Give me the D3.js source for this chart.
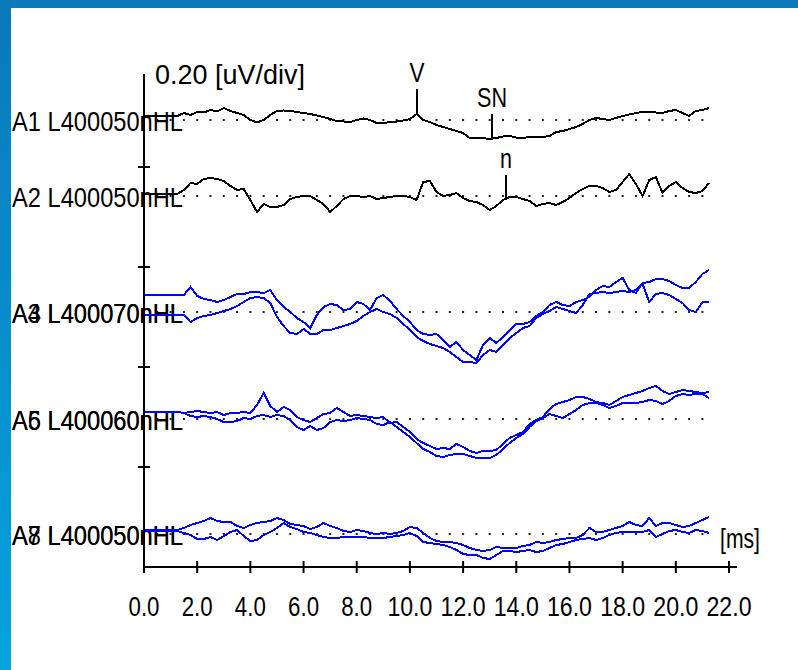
<!DOCTYPE html>
<html>
<head>
<meta charset="utf-8">
<script src="https://cdn.jsdelivr.net/npm/d3@7/dist/d3.min.js"></script>
<style>
  html, body { margin: 0; padding: 0; background: #fff; }
  svg { display: block; }
  text { font-family: "Liberation Sans", Arial, sans-serif; fill: #000; }
</style>
</head>
<body>
<div id="chart"></div>
<script>
// sample times in ms (one point every 0.25 ms)
const times = d3.range(86).map(i => i * 0.25)
const xTicks = [0, 2, 4, 6, 8, 10, 12, 14, 16, 18, 20, 22]
const dotTimes = d3.range(0, 21.01, 0.5)

// amplitudes in nV relative to each trace's baseline (0.20 uV/div)
const a1 = [8,8,8,8,8,8,14,10,16,15,20,17,24,18,14,10,0,-5,0,10,18,19,18,16,14,12,9,6,2,-2,-3,-4,0,3,0,-6,-6,-4,-3,-1,2,12,0,-4,-10,-14,-18,-22,-26,-36,-36,-36,-38,-36,-33,-32,-35,-36,-34,-33,-34,-32,-24,-22,-18,-14,-8,0,4,2,0,4,8,11,14,16,17,15,14,18,20,14,8,18,20,24]
const a2 = [4,4,4,4,4,4,12,26,24,34,36,34,30,20,12,14,-8,-32,-16,-22,-22,-18,-6,-2,0,0,-8,-16,-32,-20,-6,0,0,-2,0,-6,-4,-2,0,0,-2,-8,28,30,8,0,2,6,-4,-10,-12,-18,-28,-20,-8,-2,-2,-6,-10,-20,-16,-14,-18,-12,-4,6,14,20,20,16,8,12,28,44,24,0,32,38,6,20,28,16,8,6,10,26]
const a3 = [34,34,34,34,34,34,34,50,32,26,24,20,24,30,36,36,40,40,38,44,24,10,0,-12,-20,-32,-6,10,16,14,4,6,20,16,4,28,34,22,6,-8,-20,-36,-44,-46,-44,-56,-70,-60,-76,-86,-96,-66,-52,-62,-50,-36,-24,-24,-20,-8,0,14,20,14,12,20,24,30,44,52,50,60,68,44,38,58,60,66,66,62,54,48,48,60,76,84]
const a4 = [-6,-6,-6,-6,-6,-6,-6,-20,-12,-8,-6,-2,2,6,12,20,28,30,28,18,-10,-28,-42,-44,-34,-44,-44,-36,-36,-32,-28,-24,-18,-8,0,6,0,-4,-12,-24,-36,-50,-58,-64,-68,-72,-80,-90,-100,-100,-102,-86,-76,-80,-66,-52,-42,-32,-28,-12,-4,2,10,6,2,-2,14,36,38,40,38,40,42,40,44,56,20,36,38,34,26,18,4,0,20,20]
const a5 = [14,14,14,14,14,14,12,14,16,14,12,14,8,12,12,14,12,28,52,26,14,24,18,4,-2,-6,2,10,12,22,14,6,8,6,4,2,4,-8,-6,-16,-26,-40,-48,-54,-60,-58,-60,-50,-56,-64,-68,-64,-64,-62,-50,-38,-32,-26,-10,-2,4,20,30,34,38,44,44,40,34,32,28,36,44,48,52,56,62,66,56,50,54,58,56,54,52,54]
const a6 = [14,14,14,14,14,14,12,6,4,6,4,0,-6,-6,-4,2,0,6,8,4,8,6,-2,-16,-22,-14,-22,-18,-6,-2,-4,-2,2,0,-2,-10,-12,-6,-16,-26,-36,-48,-60,-66,-74,-76,-72,-70,-70,-74,-78,-78,-78,-72,-60,-48,-38,-30,-16,-4,2,10,6,2,10,18,28,32,32,28,22,26,32,32,32,34,38,36,30,36,46,50,48,50,50,42]
const a7 = [8,8,8,8,8,8,12,18,22,26,32,26,24,24,16,12,18,22,24,26,32,28,20,18,16,10,14,22,16,12,6,4,8,6,2,0,2,0,2,6,14,12,2,-8,-14,-16,-16,-18,-22,-28,-32,-34,-32,-26,-28,-28,-28,-24,-22,-16,-18,-16,-12,-10,-8,-8,-2,12,4,4,8,12,16,24,18,16,32,16,22,22,18,14,16,22,28,34]
const a8 = [6,6,6,6,6,6,2,-2,-10,-10,-6,-12,-4,4,8,-4,-14,-12,-2,4,12,22,14,10,4,2,-2,-6,-8,-8,-6,-6,-6,-6,-8,-8,-8,-6,-4,-2,2,-4,-16,-18,-20,-22,-26,-32,-40,-42,-42,-48,-50,-42,-34,-34,-36,-34,-32,-36,-34,-28,-22,-20,-16,-12,-10,-8,-12,-8,-2,2,4,4,4,4,8,-6,0,6,8,4,2,8,6,2]

const rowLabels = [["A1 L400050nHL"], ["A2 L400050nHL"], ["A3 L400070nHL", "A4 L400070nHL"], ["A5 L400060nHL", "A6 L400060nHL"], ["A7 L400050nHL", "A8 L400050nHL"]]
const rowTraces = [[a1], [a2], [a3, a4], [a5, a6], [a7, a8]]
const markers = [{name: "V", row: 0, t: 10.25}, {name: "SN", row: 0, t: 13.1}, {name: "n", row: 1, t: 13.6}]

const W = 798, H = 670
const rowBase = [120, 196, 312, 419, 534]   // pixel baseline of each row
const rowColor = ["#000", "#000", "#0000ff", "#0000ff", "#0000ff"]

const svg = d3.select("#chart").append("svg").attr("width", W).attr("height", H)

// blue frame
const grad = svg.append("defs").append("linearGradient").attr("id", "lg")
  .attr("x1", 0).attr("y1", 0).attr("x2", 0).attr("y2", 1)
grad.append("stop").attr("offset", "0%").attr("stop-color", "#0a79ba")
grad.append("stop").attr("offset", "100%").attr("stop-color", "#04a3e0")
svg.append("rect").attr("x", 0).attr("y", 0).attr("width", W).attr("height", 8).attr("fill", "#0b7bbb")
svg.append("rect").attr("x", 0).attr("y", 0).attr("width", 11).attr("height", H).attr("fill", "url(#lg)")

const x = d3.scaleLinear().domain([0, 22]).range([144, 729])
const amp = d3.scaleLinear().domain([0, 0.2]).range([0, -100])   // uV -> px offset
const yAx = d3.scaleLinear().domain([0, 1]).range([567, 67])     // divisions of 0.2 uV

// dotted baselines
rowBase.forEach(b => {
  svg.append("g").selectAll("rect").data(dotTimes).join("rect")
    .attr("x", d => x(d) - 1).attr("y", b - 1)
    .attr("width", 2).attr("height", 2).attr("fill", "#222")
})

// row labels
rowLabels.forEach((labs, r) => {
  svg.append("g").selectAll("text").data(labs).join("text")
    .attr("x", 12).attr("y", rowBase[r] + 11)
    .attr("font-size", 27)
    .attr("textLength", 171).attr("lengthAdjust", "spacingAndGlyphs")
    .text(d => d)
})

// traces
rowTraces.forEach((trs, r) => {
  const line = d3.line()
    .x((d, i) => x(times[i]))
    .y(d => rowBase[r] + amp(d / 1000))
  svg.append("g").selectAll("path").data(trs).join("path")
    .attr("d", d => line(d))
    .attr("fill", "none")
    .attr("stroke", rowColor[r])
    .attr("stroke-width", 2)
    .attr("shape-rendering", "crispEdges")
})

// peak markers
const markW = {V: 15, SN: 30, n: 12}
markers.forEach(m => {
  const tr = rowTraces[m.row][0]
  const idx = Math.round(m.t / 0.25)
  const y0 = rowBase[m.row] + amp(tr[idx] / 1000)
  const mx = Math.round(x(m.t))
  svg.append("line").attr("x1", mx).attr("x2", mx).attr("y1", y0).attr("y2", y0 - 25)
    .attr("stroke", "#000").attr("stroke-width", 2)
  svg.append("text").attr("x", mx).attr("y", y0 - 32)
    .attr("text-anchor", "middle").attr("font-size", 27)
    .attr("textLength", markW[m.name]).attr("lengthAdjust", "spacingAndGlyphs")
    .text(m.name)
})

// axes
const ax = svg.append("g").attr("stroke", "#000").attr("stroke-width", 2)
ax.append("line").attr("x1", x(0)).attr("x2", x(0)).attr("y1", 74).attr("y2", 573)
ax.append("line").attr("x1", x(0)).attr("x2", x(22) + 8).attr("y1", yAx(0)).attr("y2", yAx(0))
ax.selectAll(".yt").data([0.2, 0.4, 0.6, 0.8]).join("line")
  .attr("x1", x(0) - 6).attr("x2", x(0) + 6)
  .attr("y1", d => yAx(d)).attr("y2", d => yAx(d))
ax.selectAll(".xt").data(xTicks).join("line")
  .attr("x1", d => x(d)).attr("x2", d => x(d))
  .attr("y1", yAx(0) - 6).attr("y2", yAx(0) + 6)

svg.append("g").selectAll("text").data(xTicks).join("text")
  .attr("x", d => x(d)).attr("y", 616)
  .attr("text-anchor", "middle").attr("font-size", 27)
  .attr("textLength", d => d >= 10 ? 45 : 31).attr("lengthAdjust", "spacingAndGlyphs")
  .text(d => d.toFixed(1))

svg.append("text").attr("x", 155).attr("y", 84).attr("font-size", 27)
  .attr("textLength", 150).attr("lengthAdjust", "spacingAndGlyphs")
  .text("0.20 [uV/div]")
svg.append("text").attr("x", 720).attr("y", 548).attr("font-size", 27)
  .attr("textLength", 40).attr("lengthAdjust", "spacingAndGlyphs")
  .text("[ms]")
</script>
</body>
</html>
